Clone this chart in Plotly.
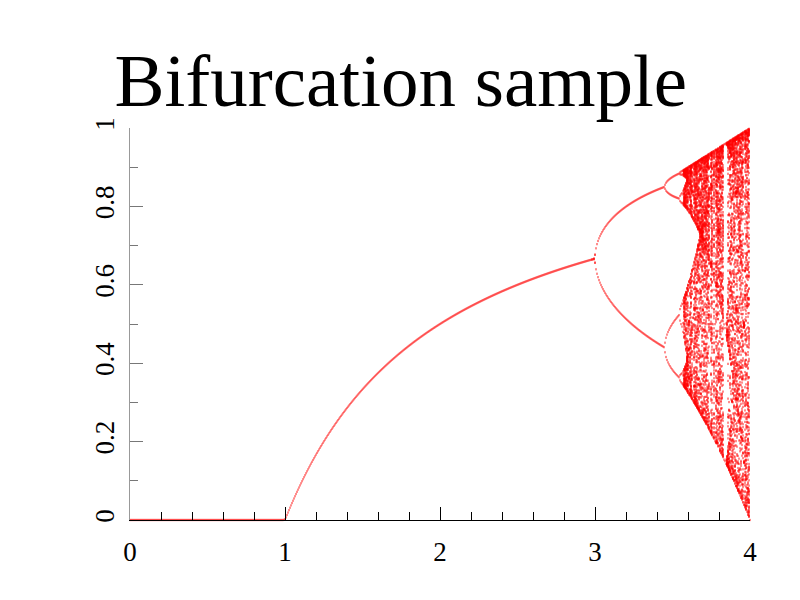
import numpy as np
import plotly.graph_objects as go

# Logistic map x -> r*x*(1-x): parameters of the sample
title_text = "Bifurcation sample"
r_min, r_max, r_count = 0.0, 4.0, 621
transient_iters = 500
kept_iters = 150
x_start = 0.5
x_tick_vals = [0, 1, 2, 3, 4]
x_tick_text = ["0", "1", "2", "3", "4"]
y_tick_vals = [0, 0.2, 0.4, 0.6, 0.8, 1]
y_tick_text = ["0", "0.2", "0.4", "0.6", "0.8", "1"]

r_vals = np.linspace(r_min, r_max, r_count)
x = np.full(r_vals.shape, x_start)
for _ in range(transient_iters):
    x = r_vals * x * (1 - x)
rs, xs = [], []
for _ in range(kept_iters):
    x = r_vals * x * (1 - x)
    rs.append(r_vals.copy())
    xs.append(x.copy())
rs = np.concatenate(rs)
xs = np.concatenate(xs)
_, idx = np.unique(np.stack([np.round(rs, 4), np.round(xs, 3)], axis=1), axis=0, return_index=True)
rs = rs[idx]
xs = xs[idx]

fig = go.Figure()
fig.add_trace(go.Scatter(
    x=rs, y=xs, mode="markers",
    marker=dict(color="red", symbol="line-ns", size=1.6, line=dict(width=0.9, color="red")),
    cliponaxis=False, hoverinfo="skip", showlegend=False,
))

font_family = "Liberation Serif, Times New Roman, serif"
# the page body adds an 8px offset; margins compensate for it
fig.update_layout(
    width=800, height=600,
    paper_bgcolor="white", plot_bgcolor="white",
    margin=dict(l=122, r=58, t=120, b=88, autoexpand=False),
    font=dict(family=font_family, color="black", size=27),
    title=dict(text=title_text, x=0.491, xanchor="center", xref="container",
               y=0.837, yanchor="bottom", yref="container",
               font=dict(family=font_family, size=75, color="black")),
)
fig.update_xaxes(
    range=[0, 4], showgrid=False, zeroline=False, automargin=False,
    showline=True, linecolor="black", linewidth=1,
    ticks="inside", ticklen=13, tickcolor="black", tickwidth=1,
    tickvals=x_tick_vals, ticktext=x_tick_text,
    tickfont=dict(size=27, family=font_family, color="black"),
    minor=dict(dtick=0.2, ticks="inside", ticklen=8, tickcolor="black", tickwidth=1, showgrid=False),
    ticklabelstandoff=8,
)
fig.update_yaxes(
    range=[0, 1], showgrid=False, zeroline=False, automargin=False,
    showline=True, linecolor="#999999", linewidth=1,
    ticks="inside", ticklen=13, tickcolor="#777777", tickwidth=1,
    tickvals=y_tick_vals, ticktext=y_tick_text, tickangle=-90,
    tickfont=dict(size=27, family=font_family, color="black"),
    minor=dict(dtick=0.1, ticks="inside", ticklen=8, tickcolor="#777777", tickwidth=1, showgrid=False),
    ticklabelstandoff=4,
)
fig.write_html("out.html")
